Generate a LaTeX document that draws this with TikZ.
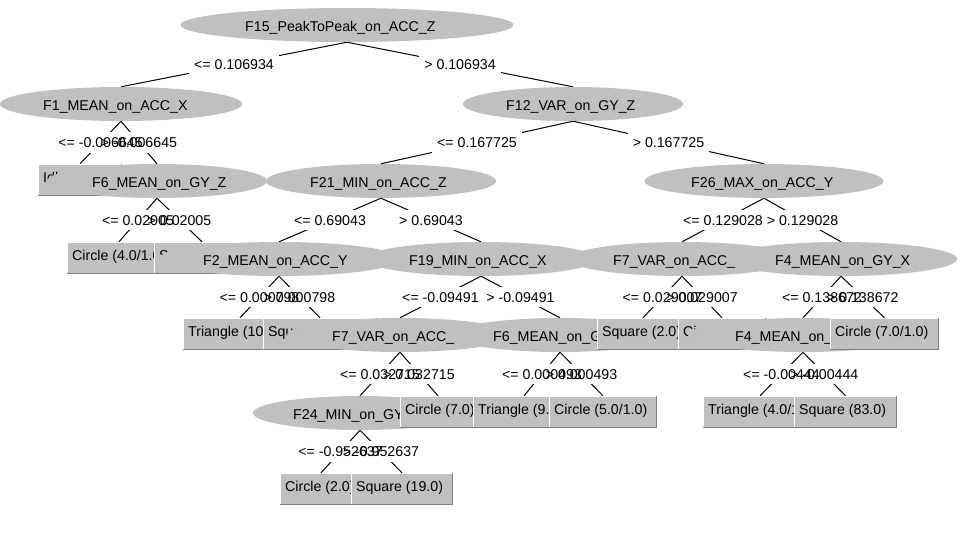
\documentclass[tikz,border=0pt]{standalone}
\usepackage{fontspec}
\setmainfont{Liberation Sans}
\usetikzlibrary{shapes.geometric,calc}
\pgfdeclarelayer{edgelayer}
\pgfdeclarelayer{labelbg}
\pgfdeclarelayer{labeltx}
\pgfsetlayers{edgelayer,main,labelbg,labeltx}
\definecolor{nodegray}{RGB}{192,192,192}
\definecolor{shadowgray}{RGB}{128,128,128}
\tikzset{
  every node/.style={font=\fontsize{14.2}{17}\selectfont},
  enode/.style={ellipse, fill=nodegray, inner sep=0pt, minimum height=34pt},
  leafbox/.style={rectangle, fill=nodegray, inner sep=0pt, minimum height=32pt},
  ntext/.style={anchor=base west, inner sep=0pt},
  treeedge/.style={black, line width=1pt},
  lblbg/.style={fill=white, inner xsep=5pt, inner ysep=5pt, text height=10.2pt, text depth=0pt},
  lbltx/.style={inner xsep=5pt, inner ysep=5pt, text height=10.2pt, text depth=0pt},
}
% name, cx, top, width, text-x, text
\newcommand{\ellnode}[6]{%
  \node[enode,minimum width=#4pt] (#1) at (#2,{-(#3+17)}) {};
  \node[ntext] (#1t) at (#5,{-(#3+23)}) {#6};}
% name, cx, top, width, text
\newcommand{\leafnode}[5]{%
  \node[leafbox,minimum width=#4pt] (#1) at (#2,{-(#3+16)}) {};
  \draw[white,line width=1pt] ([xshift=0.5pt]#1.south west) -- ([xshift=0.5pt,yshift=-0.5pt]#1.north west) -- ([yshift=-0.5pt]#1.north east);
  \draw[shadowgray,line width=1.5pt] ([yshift=0.75pt]#1.south west) -- ([xshift=-0.75pt,yshift=0.75pt]#1.south east) -- ([xshift=-0.75pt]#1.north east);
  \node[ntext] (#1t) at ({#2-#4/2+5},{-(#3+18.5)}) {#5};}
\begin{document}
\begin{tikzpicture}[x=1pt,y=1pt]
\useasboundingbox (0,0) rectangle (963,-549);
% level 1
\ellnode{f15}{347}{8}{333}{245}{F15\_PeakToPeak\_on\_ACC\_Z}
% level 2
\ellnode{f1}{121}{87}{242}{43}{F1\_MEAN\_on\_ACC\_X}
\ellnode{f12}{573}{87}{220}{506}{F12\_VAR\_on\_GY\_Z}
% level 3
\leafnode{idle}{80}{164}{84}{Idle}
\ellnode{f6a}{157}{164}{220}{92}{F6\_MEAN\_on\_GY\_Z}
\ellnode{f21}{381}{164}{230}{310}{F21\_MIN\_on\_ACC\_Z}
\ellnode{f26}{764}{164}{239}{691}{F26\_MAX\_on\_ACC\_Y}
% level 4
\leafnode{c4}{119}{242}{104}{Circle (4.0/1.0)}
\leafnode{sa}{202}{242}{96}{Square}
\ellnode{f2}{279}{242}{242}{203}{F2\_MEAN\_on\_ACC\_Y}
\ellnode{f19}{481}{242}{232}{409}{F19\_MIN\_on\_ACC\_X}
\ellnode{f7a}{682}{242}{226}{613}{F7\_VAR\_on\_ACC\_Y}
\ellnode{f4a}{841}{242}{232}{775}{F4\_MEAN\_on\_GY\_X}
% level 5
\leafnode{t10}{240}{318}{114}{Triangle (10}
\leafnode{squ}{320}{318}{114}{Square}
\ellnode{f7b}{400}{318}{226}{332}{F7\_VAR\_on\_ACC\_}
\ellnode{f6b}{560}{318}{216}{493}{F6\_MEAN\_on\_G}
\leafnode{sq2}{643}{318}{92}{Square (2.0)}
\leafnode{cx}{722}{318}{88}{Circle}
\ellnode{f4b}{803}{318}{230}{735}{F4\_MEAN\_on\_}
\leafnode{c71}{884.5}{318}{109}{Circle (7.0/1.0)}
% level 6
\ellnode{f24}{360}{396}{214}{293}{F24\_MIN\_on\_GY}
\leafnode{c70}{438}{396}{76}{Circle (7.0)}
\leafnode{t9}{524}{396}{102}{Triangle (9.0)}
\leafnode{c51}{603}{396}{108}{Circle (5.0/1.0)}
\leafnode{t4}{760}{396}{114}{Triangle (4.0/1.0)}
\leafnode{s83}{845.5}{396}{103}{Square (83.0)}
% level 7
\leafnode{c2}{321}{473}{82}{Circle (2.0)}
\leafnode{s19}{402}{473}{102}{Square (19.0)}
% edges
\def\edgelist{f15/f1/{<= 0.106934}, f15/f12/{> 0.106934},
  f1/idle/{<= -0.006645}, f1/f6a/{> -0.006645},
  f6a/c4/{<= 0.02005}, f6a/sa/{> 0.02005},
  f12/f21/{<= 0.167725}, f12/f26/{> 0.167725},
  f21/f2/{<= 0.69043}, f21/f19/{> 0.69043},
  f2/t10/{<= 0.000798}, f2/squ/{> 0.000798},
  f19/f7b/{<= -0.09491}, f19/f6b/{> -0.09491},
  f7b/f24/{<= 0.032715}, f7b/c70/{> 0.032715},
  f24/c2/{<= -0.952637}, f24/s19/{> -0.952637},
  f6b/t9/{<= 0.000493}, f6b/c51/{> 0.000493},
  f26/f7a/{<= 0.129028}, f26/f4a/{> 0.129028},
  f7a/sq2/{<= 0.029007}, f7a/cx/{> 0.029007},
  f4a/f4b/{<= 0.138672}, f4a/c71/{> 0.138672},
  f4b/t4/{<= -0.00444}, f4b/s83/{> -0.00444}}
\begin{pgfonlayer}{edgelayer}
\fill[white] (0,0) rectangle (963,-549);
\foreach \p/\c/\lbl in \edgelist {\draw[treeedge] (\p.south) -- (\c.north);}
\end{pgfonlayer}
\begin{pgfonlayer}{labelbg}
\foreach \p/\c/\lbl in \edgelist {\node[lblbg] (bg-\p-\c) at ($(\p.south)!0.5!(\c.north)$) {\phantom{\lbl}};}
\end{pgfonlayer}
\begin{pgfonlayer}{labeltx}
\foreach \p/\c/\lbl in \edgelist {\node[lbltx] (lb-\p-\c) at ($(\p.south)!0.5!(\c.north)$) {\lbl};}
\end{pgfonlayer}
\end{tikzpicture}
\end{document}
